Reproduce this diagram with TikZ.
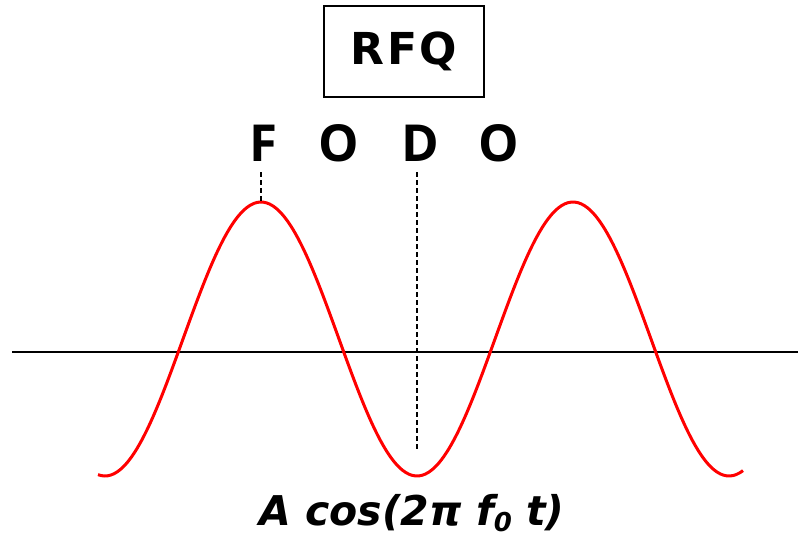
\documentclass[tikz,border=0pt]{standalone}
\usepackage{fontspec}
\setmainfont{Open Sans}
\newfontfamily\widefont{DejaVu Sans}
\usepackage{tikz}
\usetikzlibrary{positioning}

\tikzset{
  cell/.style={font=\fontsize{51}{51}\selectfont\bfseries, anchor=base, inner sep=0pt},
  guide/.style={dashed, dash pattern=on 5pt off 3pt, line width=2pt}
}

\begin{document}
\begin{tikzpicture}[x=1pt,y=-1pt]
  \useasboundingbox (0,0) rectangle (798,552);
  % title
  \node[draw, line width=2pt, minimum width=160pt, minimum height=91pt,
        font=\fontsize{44}{44}\widefont\bfseries\addfontfeature{LetterSpace=6}] (rfq) at (404,51.5) {RFQ};
  % lattice letters
  \node[cell] (F)  at (263,161) {F};
  \node[cell] (O1) at (339,161) {O};
  \node[cell] (D)  at (420,161) {D};
  \node[cell] (O2) at (499,161) {O};
  % axis
  \coordinate (west) at (12,352);
  \coordinate (east) at (798,352);
  \draw[line width=2pt] (west) -- (east);
  % field
  \draw[red, line width=3pt, domain=98:743, samples=200, smooth]
    plot (\x, {339 - 137*cos((\x-261)/312*360)});
  \coordinate (peak) at (261,202);
  \coordinate (low) at (417,450);
  \draw[guide] (261,172) -- (peak);
  \draw[guide] (417,172) -- (low);
  % formula
  \node[anchor=base, inner sep=0pt, font=\fontsize{41}{41}\widefont\bfseries\itshape]
    (field) at (412,525) {A cos(2π f\raisebox{-0.3ex}{\fontsize{26}{26}\selectfont 0} t)};
\end{tikzpicture}
\end{document}
